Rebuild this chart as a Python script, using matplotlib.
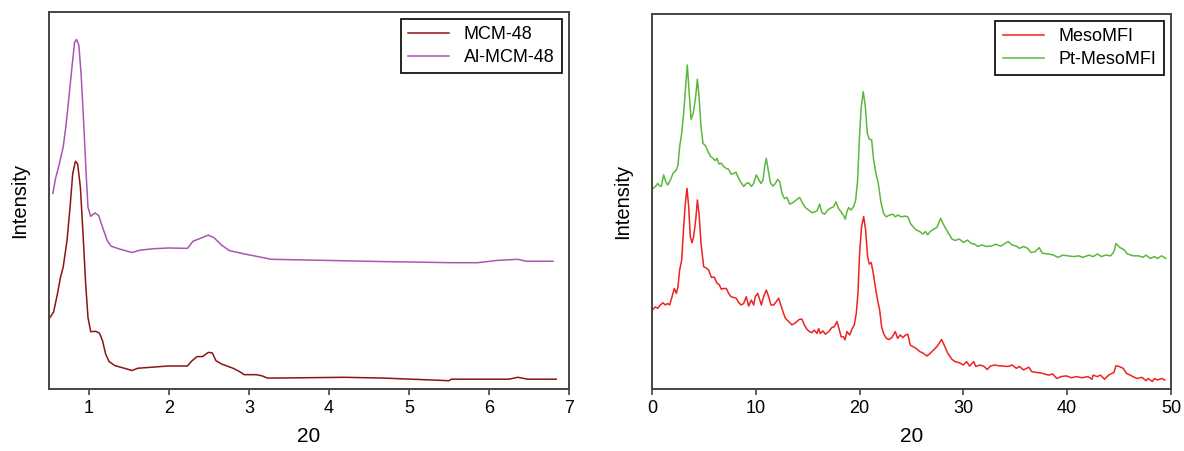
import matplotlib
matplotlib.use("Agg")
import matplotlib.pyplot as plt

plt.rcParams['font.family'] = ['Liberation Sans', 'DejaVu Sans']

# ---- left panel: MCM-48 / Al-MCM-48 (intensity normalised to axis height) ----
mcm48_x = [0.5, 0.557, 0.605, 0.643, 0.677, 0.725, 0.763, 0.796, 0.83, 0.858, 0.892, 0.925, 0.958,
           0.987, 1.021, 1.083, 1.131, 1.169, 1.207, 1.25, 1.322, 1.442, 1.537, 1.609, 1.8, 1.991,
           2.23, 2.278, 2.35, 2.42, 2.49, 2.54, 2.587, 2.66, 2.80, 2.875, 2.94, 3.09, 3.16, 3.23,
           3.33, 4.19, 4.67, 5.15, 5.5, 5.53, 6.25, 6.36, 6.41, 6.48, 6.84]
mcm48_y = [0.186, 0.204, 0.252, 0.296, 0.323, 0.394, 0.482, 0.571, 0.604, 0.597, 0.535, 0.412, 0.279,
           0.190, 0.152, 0.153, 0.148, 0.128, 0.093, 0.073, 0.062, 0.055, 0.049, 0.055, 0.058, 0.061,
           0.061, 0.073, 0.086, 0.086, 0.097, 0.096, 0.075, 0.066, 0.055, 0.047, 0.038, 0.038, 0.035,
           0.029, 0.029, 0.031, 0.029, 0.025, 0.022, 0.026, 0.026, 0.031, 0.029, 0.026, 0.026]

almcm48_x = [0.548, 0.581, 0.629, 0.677, 0.71, 0.749, 0.787, 0.82, 0.844, 0.873, 0.901, 0.93, 0.964,
             0.987, 1.021, 1.073, 1.121, 1.169, 1.227, 1.275, 1.37, 1.537, 1.633, 1.8, 1.991, 2.23,
             2.30, 2.374, 2.49, 2.564, 2.66, 2.756, 2.947, 3.186, 3.28, 4.67, 5.53, 5.86, 6.10, 6.36,
             6.46, 6.8]
almcm48_y = [0.519, 0.558, 0.597, 0.642, 0.695, 0.774, 0.854, 0.920, 0.927, 0.912, 0.836, 0.721, 0.571,
             0.482, 0.458, 0.467, 0.460, 0.429, 0.394, 0.379, 0.372, 0.362, 0.368, 0.372, 0.374, 0.373,
             0.392, 0.398, 0.408, 0.401, 0.381, 0.367, 0.358, 0.348, 0.344, 0.338, 0.335, 0.335, 0.341,
             0.344, 0.339, 0.339]

# ---- right panel: MesoMFI / Pt-MesoMFI ----
meso_x = [0.1, 0.32, 0.55, 0.8, 1.06, 1.28, 1.51, 1.70, 1.93, 2.15, 2.34, 2.5, 2.66, 2.86, 3.05, 3.21,
          3.37, 3.53, 3.69, 3.85, 4.01, 4.21, 4.37, 4.53, 4.72, 4.98, 5.2, 5.46, 5.71, 6.0, 6.26, 6.48,
          6.68, 6.9, 7.16, 7.38, 7.61, 7.87, 8.12, 8.35, 8.6, 8.83, 9.08, 9.31, 9.57, 9.79, 9.95,
          10.18, 10.37, 10.53, 10.75, 11.01, 11.24, 11.46, 11.72, 11.97, 12.2, 12.36, 12.62, 12.84,
          13.16, 13.48, 13.74, 13.96, 14.22, 14.45, 14.67, 14.93, 15.18, 15.41, 15.63, 15.89, 16.05,
          16.21, 16.47, 16.69, 17.01, 17.34, 17.56, 17.82, 18.01, 18.23, 18.46, 18.59, 18.78, 19.04,
          19.26, 19.49, 19.68, 19.84, 20.0, 20.19, 20.39, 20.58, 20.77, 20.93, 21.12, 21.32, 21.51,
          21.73, 21.93, 22.12, 22.31, 22.57, 22.82, 23.11, 23.44, 23.66, 23.92, 24.17, 24.43, 24.65,
          24.88, 25.14, 25.46, 25.78, 26.16, 26.48, 26.8, 27.13, 27.45, 27.9, 28.15, 28.5, 28.9,
          29.2, 29.6, 30.0, 30.3, 30.6, 31.0, 31.2, 31.6, 32.0, 32.3, 32.6, 33.0, 33.4, 33.9, 34.3,
          34.7, 35.1, 35.4, 35.8, 36.3, 36.6, 37.1, 37.6, 38.2, 38.6, 39.0, 39.4, 39.9, 40.4, 40.9,
          41.4, 42.0, 42.4, 42.5, 42.9, 43.2, 43.6, 44.0, 44.5, 44.7, 45.0, 45.4, 45.7, 46.2, 46.7,
          47.2, 47.6, 47.8, 48.2, 48.4, 48.7, 49.1, 49.4]
meso_y = [0.2125, 0.219, 0.215, 0.224, 0.230, 0.224, 0.228, 0.224, 0.246, 0.268, 0.255, 0.273, 0.317,
          0.344, 0.433, 0.495, 0.535, 0.486, 0.406, 0.390, 0.406, 0.451, 0.504, 0.468, 0.388, 0.326,
          0.323, 0.317, 0.298, 0.298, 0.282, 0.278, 0.266, 0.268, 0.268, 0.255, 0.246, 0.244, 0.242,
          0.230, 0.224, 0.228, 0.246, 0.221, 0.237, 0.224, 0.246, 0.255, 0.239, 0.224, 0.246, 0.264,
          0.246, 0.224, 0.224, 0.233, 0.242, 0.228, 0.206, 0.189, 0.180, 0.171, 0.175, 0.180, 0.186,
          0.186, 0.171, 0.159, 0.153, 0.150, 0.157, 0.148, 0.161, 0.148, 0.155, 0.146, 0.153, 0.164,
          0.166, 0.180, 0.161, 0.139, 0.139, 0.131, 0.153, 0.144, 0.159, 0.171, 0.202, 0.255, 0.362,
          0.433, 0.460, 0.424, 0.353, 0.333, 0.337, 0.308, 0.273, 0.237, 0.211, 0.166, 0.148, 0.135,
          0.132, 0.137, 0.153, 0.135, 0.144, 0.137, 0.144, 0.146, 0.117, 0.113, 0.108, 0.100, 0.095,
          0.088, 0.095, 0.104, 0.113, 0.132, 0.117, 0.095, 0.079, 0.073, 0.070, 0.064, 0.073, 0.061,
          0.073, 0.060, 0.064, 0.060, 0.052, 0.061, 0.064, 0.062, 0.061, 0.060, 0.064, 0.055, 0.060,
          0.051, 0.058, 0.046, 0.044, 0.042, 0.037, 0.040, 0.028, 0.033, 0.035, 0.030, 0.033, 0.030,
          0.033, 0.026, 0.037, 0.033, 0.037, 0.026, 0.037, 0.044, 0.062, 0.060, 0.055, 0.042, 0.035,
          0.028, 0.031, 0.022, 0.028, 0.020, 0.028, 0.024, 0.028, 0.024]

ptmeso_x = [0.1, 0.32, 0.55, 0.74, 0.9, 1.12, 1.32, 1.51, 1.77, 2.02, 2.34, 2.5, 2.66, 2.86, 3.05, 3.21,
            3.4, 3.56, 3.76, 3.95, 4.17, 4.37, 4.53, 4.72, 4.91, 5.17, 5.39, 5.62, 5.87, 6.1, 6.26,
            6.45, 6.68, 6.9, 7.16, 7.38, 7.61, 7.87, 8.09, 8.28, 8.51, 8.83, 9.08, 9.31, 9.57, 9.79,
            10.05, 10.27, 10.5, 10.69, 10.85, 11.01, 11.17, 11.4, 11.65, 11.88, 12.1, 12.3, 12.52,
            12.75, 13.0, 13.26, 13.58, 13.9, 14.22, 14.51, 14.77, 15.09, 15.41, 15.73, 15.89, 16.15,
            16.37, 16.63, 16.92, 17.17, 17.5, 17.72, 17.95, 18.2, 18.46, 18.62, 18.78, 18.94, 19.17,
            19.42, 19.62, 19.81, 19.97, 20.16, 20.35, 20.55, 20.74, 20.93, 21.16, 21.35, 21.57, 21.8,
            22.05, 22.31, 22.57, 22.89, 23.21, 23.44, 23.69, 24.01, 24.4, 24.65, 24.88, 25.14, 25.46,
            25.78, 26.1, 26.35, 26.55, 26.8, 27.13, 27.45, 27.8, 28.15, 28.5, 28.9, 29.2, 29.6, 30.0,
            30.4, 30.7, 31.1, 31.4, 31.8, 32.2, 32.7, 33.1, 33.6, 34.0, 34.3, 34.7, 35.1, 35.4, 35.8,
            36.2, 36.5, 36.9, 37.3, 37.6, 38.2, 38.7, 39.1, 39.6, 40.1, 40.6, 41.1, 41.5, 42.1, 42.5,
            42.9, 43.3, 43.7, 44.2, 44.5, 44.7, 45.1, 45.5, 45.8, 46.4, 46.9, 47.3, 47.6, 48.0, 48.4,
            48.7, 49.1, 49.5]
ptmeso_y = [0.535, 0.540, 0.548, 0.541, 0.541, 0.571, 0.553, 0.544, 0.557, 0.575, 0.584, 0.597, 0.646,
            0.682, 0.735, 0.797, 0.864, 0.797, 0.719, 0.733, 0.771, 0.826, 0.779, 0.699, 0.655, 0.648,
            0.633, 0.621, 0.615, 0.609, 0.615, 0.600, 0.602, 0.593, 0.588, 0.586, 0.573, 0.575, 0.578,
            0.566, 0.553, 0.540, 0.548, 0.550, 0.540, 0.548, 0.571, 0.559, 0.548, 0.557, 0.593, 0.615,
            0.588, 0.550, 0.541, 0.548, 0.559, 0.553, 0.522, 0.508, 0.511, 0.493, 0.497, 0.504, 0.511,
            0.495, 0.484, 0.477, 0.470, 0.473, 0.475, 0.493, 0.470, 0.466, 0.477, 0.482, 0.486, 0.499,
            0.482, 0.473, 0.462, 0.453, 0.473, 0.484, 0.477, 0.486, 0.504, 0.557, 0.664, 0.753, 0.793,
            0.753, 0.682, 0.666, 0.664, 0.611, 0.575, 0.548, 0.499, 0.468, 0.459, 0.464, 0.466, 0.459,
            0.464, 0.459, 0.461, 0.459, 0.442, 0.433, 0.424, 0.420, 0.413, 0.420, 0.411, 0.420, 0.426,
            0.431, 0.455, 0.435, 0.418, 0.400, 0.396, 0.400, 0.391, 0.397, 0.389, 0.386, 0.380, 0.384,
            0.380, 0.381, 0.386, 0.381, 0.388, 0.393, 0.384, 0.381, 0.375, 0.380, 0.375, 0.364, 0.366,
            0.377, 0.362, 0.360, 0.357, 0.351, 0.357, 0.355, 0.353, 0.355, 0.351, 0.357, 0.353, 0.360,
            0.353, 0.357, 0.355, 0.366, 0.388, 0.377, 0.371, 0.360, 0.355, 0.355, 0.351, 0.357, 0.348,
            0.353, 0.348, 0.355, 0.348]

left_ticks = [1, 2, 3, 4, 5, 6, 7]
right_ticks = [0, 10, 20, 30, 40, 50]

fig = plt.figure(figsize=(11.84, 4.51), dpi=100)
ax1 = fig.add_axes([0.0414, 0.1375, 0.4392, 0.8359])
ax2 = fig.add_axes([0.5507, 0.1375, 0.4383, 0.8315])

ax1.plot(mcm48_x, mcm48_y, color='#8b1414', lw=1.1, label='MCM-48')
ax1.plot(almcm48_x, almcm48_y, color='#a955b3', lw=1.1, label='Al-MCM-48')
ax1.set_xlim(0.5, 7)
ax1.set_xticks(left_ticks)

ax2.plot(meso_x, meso_y, color='#ee2222', lw=1.1, label='MesoMFI')
ax2.plot(ptmeso_x, ptmeso_y, color='#5cb83c', lw=1.1, label='Pt-MesoMFI')
ax2.set_xlim(0, 50)
ax2.set_xticks(right_ticks)

for ax in (ax1, ax2):
    ax.set_ylim(0, 1)
    ax.set_yticks([])
    for s in ax.spines.values():
        s.set_color('#444444')
        s.set_linewidth(1.4)
    ax.tick_params(axis='x', direction='out', length=4, width=1.2, color='#444444',
                   labelsize=13, pad=4)
    ax.set_xlabel('20', fontsize=15, labelpad=7)
    ax.set_ylabel('Intensity', fontsize=14.5, labelpad=14)
    leg = ax.legend(loc='upper right', fontsize=13, fancybox=False, framealpha=1,
                    edgecolor='black', handlelength=2.3, borderaxespad=0.4,
                    labelspacing=0.3, borderpad=0.4)
    leg.get_frame().set_linewidth(1.2)

fig.savefig('out.png', dpi=100)
